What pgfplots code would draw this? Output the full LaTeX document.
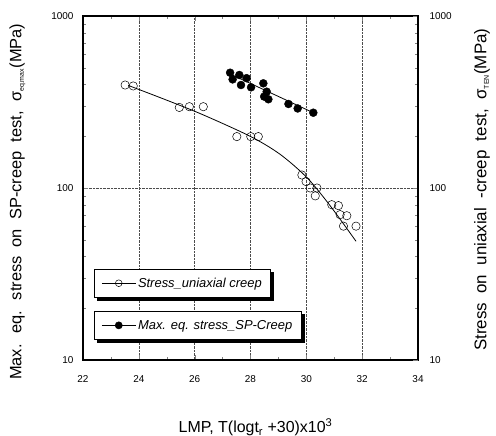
\documentclass[border=0pt]{standalone}
\usepackage{fontspec}
\setmainfont{Liberation Sans}
\newfontfamily\labelfont{Liberation Sans}[WordSpace=1.5]
\newfontfamily\rlabelfont{Liberation Sans}[WordSpace=2.0]
\usepackage{pgfplots}
\pgfplotsset{compat=1.18}
\pgfplotsset{
  legend image code/.code={\draw[mark repeat=2,mark phase=2] plot coordinates {(0cm,0cm) (0.6cm,0cm) (1.2cm,0cm)};},
}

\begin{document}
\begin{tikzpicture}
\begin{axis}[name=main,
  width=335bp, height=344bp, scale only axis,
  xmin=22, xmax=34, ymode=log, ymin=10, ymax=1000,
  /pgf/number format/assume math mode=true,
  tick align=inside,
  ytick={10,100,1000}, yticklabels={10,100,1000},
  tick label style={font=\fontsize{10}{12}\selectfont},
  major tick length=5bp, minor tick length=3bp,
  axis line style={line width=1.1pt},
  xtick={22,24,...,34}, minor x tick num=1,
  xtick pos=both, ytick pos=left,
  xticklabel style={yshift=-12bp},
  yticklabel style={xshift=-6bp},
  grid=major, major grid style={densely dotted, black!70},
  xlabel={LMP, T(logt\textsubscript{r} +30)x10\textsuperscript{3}},
  xlabel style={font=\fontsize{16}{18}\selectfont, at={(axis description cs:0.515,-0.195)}, anchor=center},
  ylabel={\labelfont Max. eq. stress on SP-creep test, σ\textsubscript{\fontsize{7}{8}\selectfont eq.max}(MPa)},
  ylabel style={font=\fontsize{16.5}{18}\selectfont, at={(axis description cs:-0.196,0.46)}, anchor=center, rotate=0},
  legend style={name=leg1, draw=black, line width=0.9pt, fill=white,
    font=\itshape\fontsize{13}{15}\selectfont, inner xsep=7bp, inner ysep=6.5bp,
    at={(rel axis cs:0.033,0.265)}, anchor=north west},
]
\addplot[only marks, mark=o, mark size=4.2pt, line width=0.5pt, forget plot] coordinates {
(23.51,397) (23.80,392) (25.45,294) (25.81,297) (26.31,297)
(27.51,199) (28.01,199) (28.28,199)
(29.84,119) (29.99,109) (30.14,100) (30.38,100) (30.32,90)
(30.91,80) (31.15,79) (31.21,70) (31.45,69) (31.33,60) (31.78,60)
};
\addplot[black, line width=0.8pt, smooth, forget plot] coordinates {
(23.62,395) (25.0,324) (26.31,266) (28.01,199) (29.06,157) (30.02,115) (30.85,79) (31.78,49)
};
\addlegendimage{black, line width=0.5pt, mark=o, mark size=3.4pt}
\addlegendentry{Stress\_uniaxial creep}
\end{axis}
\begin{axis}[
  width=335bp, height=344bp, scale only axis,
  xmin=22, xmax=34, ymode=log, ymin=10, ymax=1000,
  /pgf/number format/assume math mode=true,
  tick align=inside,
  ytick={10,100,1000}, yticklabels={10,100,1000},
  tick label style={font=\fontsize{10}{12}\selectfont},
  major tick length=5bp, minor tick length=3bp,
  axis line style={line width=1.1pt},
  hide x axis, axis y line*=right, ytick pos=right,
  yticklabel style={xshift=8bp, anchor=west},
  ylabel={\rlabelfont Stress on uniaxial -creep test, σ\textsubscript{\fontsize{7}{8}\selectfont TEN}(MPa)},
  ylabel style={font=\fontsize{17}{19}\selectfont, at={(axis description cs:1.191,0.495)}, anchor=center, rotate=0},
  legend style={name=leg2, draw=black, line width=0.9pt, fill=white,
    font=\itshape\fontsize{13}{15}\selectfont, inner xsep=7bp, inner ysep=6.5bp,
    at={(rel axis cs:0.033,0.142)}, anchor=north west},
]
\addplot[only marks, mark=*, mark size=4.0pt, forget plot] coordinates {
(27.27,468) (27.36,428) (27.60,454) (27.66,397) (27.86,435) (28.02,385)
(28.46,406) (28.58,363) (28.49,340) (28.64,328) (29.36,308) (29.69,290) (30.25,274)
};
\addplot[black, line width=0.8pt, forget plot] coordinates {(27.27,460) (30.25,274)};
\addlegendimage{black, line width=0.5pt, mark=*, mark size=3.6pt}
\addlegendentry{Max. eq. stress\_SP-Creep}
\end{axis}
% legend drop shadows
\foreach \L in {leg1,leg2}{
  \fill[black] ([xshift=3bp,yshift=-3bp]\L.south west) rectangle ([xshift=3bp]\L.south east);
  \fill[black] ([yshift=-3bp]\L.north east) rectangle ([xshift=3bp]\L.south east);
}
\pgfresetboundingbox
\path ([shift={(-83bp,-76bp)}]main.south west) rectangle ([shift={(78bp,16bp)}]main.north east);
\end{tikzpicture}
\end{document}
